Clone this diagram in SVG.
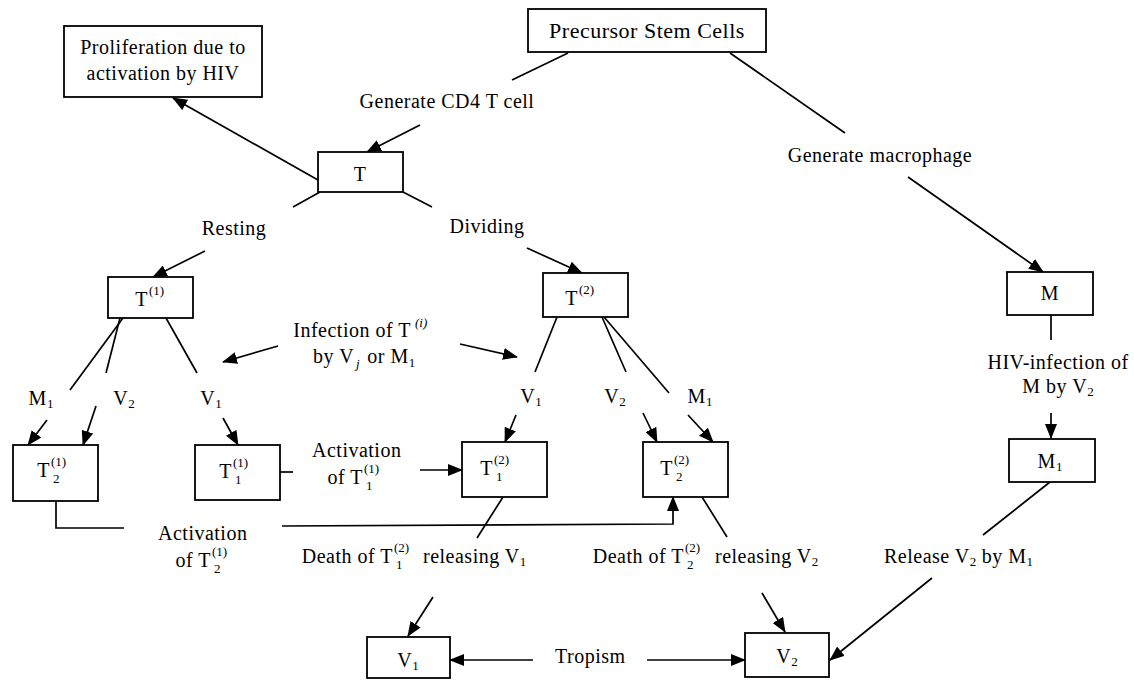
<svg xmlns="http://www.w3.org/2000/svg" width="1134" height="680" viewBox="0 0 1134 680">
<style>
.box{fill:#fff;stroke:#000;stroke-width:1.8}
.ln{stroke:#000;stroke-width:1.7;fill:none}
.ar{marker-end:url(#ah)}
text{font-family:"Liberation Serif","Times New Roman",serif;font-size:20px;letter-spacing:0.5px;fill:#000}
.s{font-size:13px;letter-spacing:0}
.m{text-anchor:middle}
.e{text-anchor:end}
.i{font-style:italic}
</style>
<defs>
<marker id="ah" markerWidth="15" markerHeight="12" refX="14" refY="6" orient="auto" markerUnits="userSpaceOnUse"><path d="M0,0 L15,6 L0,12 z" fill="#000"/></marker>
</defs>
<rect width="1134" height="680" fill="#fff"/>
<g id="connectors">
<line class="ln" x1="568" y1="53" x2="512" y2="80"/>
<line class="ln ar" x1="420" y1="125" x2="367" y2="152"/>
<line class="ln" x1="730" y1="53" x2="845" y2="133"/>
<line class="ln ar" x1="908" y1="177" x2="1043" y2="272"/>
<line class="ln ar" x1="318" y1="180" x2="173" y2="98"/>
<line class="ln" x1="320" y1="192" x2="293" y2="207"/>
<line class="ln" x1="403" y1="192" x2="432" y2="207"/>
<line class="ln ar" x1="205" y1="251" x2="153" y2="277"/>
<line class="ln ar" x1="527" y1="248" x2="582" y2="273"/>
<line class="ln ar" x1="278" y1="346" x2="223" y2="362"/>
<line class="ln ar" x1="460" y1="344" x2="517" y2="357"/>
<line class="ln" x1="123" y1="318" x2="70" y2="390"/>
<line class="ln" x1="120" y1="318" x2="106" y2="373"/>
<line class="ln" x1="166" y1="318" x2="197" y2="373"/>
<line class="ln ar" x1="47" y1="420" x2="28" y2="445"/>
<line class="ln ar" x1="96" y1="406" x2="83" y2="445"/>
<line class="ln ar" x1="223" y1="418" x2="238" y2="445"/>
<line class="ln" x1="557" y1="317" x2="535" y2="372"/>
<line class="ln" x1="602" y1="317" x2="626" y2="372"/>
<line class="ln" x1="604" y1="317" x2="669" y2="393"/>
<line class="ln ar" x1="516" y1="415" x2="505" y2="442"/>
<line class="ln ar" x1="643" y1="413" x2="657" y2="442"/>
<line class="ln ar" x1="688" y1="415" x2="713" y2="442"/>
<line class="ln" x1="280" y1="472" x2="293" y2="472"/>
<line class="ln ar" x1="420" y1="470" x2="462" y2="470"/>
<polyline class="ln" points="56,501 56,528 124,528"/>
<polyline class="ln ar" points="282,526 673,524 673,497"/>
<line class="ln" x1="503" y1="497" x2="477" y2="538"/>
<line class="ln" x1="702" y1="497" x2="727" y2="537"/>
<line class="ln ar" x1="433" y1="597" x2="408" y2="636"/>
<line class="ln ar" x1="762" y1="593" x2="785" y2="632"/>
<line class="ln ar" x1="533" y1="660" x2="450" y2="660"/>
<line class="ln ar" x1="647" y1="660" x2="745" y2="660"/>
<line class="ln ar" x1="932" y1="578" x2="830" y2="660"/>
<line class="ln" x1="1050" y1="482" x2="983" y2="535"/>
<line class="ln" x1="1051" y1="315" x2="1051" y2="340"/>
<line class="ln ar" x1="1051" y1="413" x2="1051" y2="438"/>
</g>
<g id="labels">
<text class="m" x="447" y="108">Generate CD4 T cell</text>
<text class="m" x="880" y="162">Generate macrophage</text>
<text class="m" x="234" y="235">Resting</text>
<text class="m" x="487" y="233">Dividing</text>
<text class="e" x="411" y="337">Infection of T</text>
<text class="s i" x="415" y="327">(i)</text>
<text x="313" y="363">by V<tspan class="s i" dx="2" dy="5">j</tspan><tspan dx="2" dy="-5"> or M</tspan><tspan class="s" dy="4">1</tspan></text>
<text class="m" x="41" y="405">M<tspan class="s" dy="3">1</tspan></text>
<text class="m" x="124" y="405">V<tspan class="s" dy="3">2</tspan></text>
<text class="m" x="211" y="405">V<tspan class="s" dy="3">1</tspan></text>
<text class="m" x="531" y="403">V<tspan class="s" dy="3">1</tspan></text>
<text class="m" x="615" y="403">V<tspan class="s" dy="3">2</tspan></text>
<text class="m" x="700" y="403">M<tspan class="s" dy="3">1</tspan></text>
<text x="312" y="457">Activation</text>
<text class="e" x="363" y="484">of T</text>
<text class="s" x="364" y="473">(1)</text>
<text class="s" x="366" y="490">1</text>
<text x="158" y="540">Activation</text>
<text class="e" x="211" y="567">of T</text>
<text class="s" x="212" y="556">(1)</text>
<text class="s" x="214" y="573">2</text>
<text class="e" x="393" y="563">Death of T</text>
<text class="s" x="394" y="552">(2)</text>
<text class="s" x="396" y="569">1</text>
<text x="423" y="563">releasing V<tspan class="s" dy="3">1</tspan></text>
<text class="e" x="684" y="563">Death of T</text>
<text class="s" x="685" y="552">(2)</text>
<text class="s" x="687" y="569">2</text>
<text x="715" y="563">releasing V<tspan class="s" dy="3">2</tspan></text>
<text x="884" y="563">Release V<tspan class="s" dy="3">2</tspan><tspan dy="-3"> by M</tspan><tspan class="s" dy="3">1</tspan></text>
<text x="555" y="663">Tropism</text>
<text class="m" x="1058" y="369">HIV-infection of</text>
<text class="m" x="1058" y="393">M by V<tspan class="s" dy="3">2</tspan></text>
</g>
<g id="n-prolif"><rect class="box" x="64" y="26" width="198" height="71"/><text class="m" x="163" y="54">Proliferation due to</text><text class="m" x="163" y="80">activation by HIV</text></g>
<g id="n-precursor"><rect class="box" x="528" y="9" width="238" height="43"/><text class="m" x="647" y="38" style="font-size:22px">Precursor Stem Cells</text></g>
<g id="n-T"><rect class="box" x="318" y="152" width="85" height="40"/><text class="m" x="360" y="181">T</text></g>
<g id="n-T1"><rect class="box" x="108" y="277" width="85" height="41"/><text class="e" x="148" y="306">T</text><text class="s" x="149" y="295">(1)</text></g>
<g id="n-T2"><rect class="box" x="543" y="273" width="85" height="44"/><text class="e" x="578" y="305">T</text><text class="s" x="579" y="294">(2)</text></g>
<g id="n-M"><rect class="box" x="1007" y="272" width="86" height="43"/><text class="m" x="1050" y="300">M</text></g>
<g id="n-M1"><rect class="box" x="1009" y="439" width="86" height="43"/><text class="m" x="1050" y="468">M<tspan class="s" dy="3">1</tspan></text></g>
<g id="n-T21"><rect class="box" x="13" y="445" width="85" height="56"/><text class="e" x="50" y="477">T</text><text class="s" x="51" y="466">(1)</text><text class="s" x="53" y="483">2</text></g>
<g id="n-T11"><rect class="box" x="195" y="445" width="85" height="55"/><text class="e" x="232" y="478">T</text><text class="s" x="233" y="467">(1)</text><text class="s" x="235" y="484">1</text></g>
<g id="n-T12"><rect class="box" x="462" y="442" width="85" height="55"/><text class="e" x="493" y="475">T</text><text class="s" x="494" y="464">(2)</text><text class="s" x="496" y="481">1</text></g>
<g id="n-T22"><rect class="box" x="643" y="442" width="85" height="55"/><text class="e" x="673" y="475">T</text><text class="s" x="674" y="464">(2)</text><text class="s" x="676" y="481">2</text></g>
<g id="n-V1"><rect class="box" x="367" y="637" width="83" height="41"/><text class="m" x="408" y="667">V<tspan class="s" dy="3">1</tspan></text></g>
<g id="n-V2"><rect class="box" x="745" y="633" width="84" height="44"/><text class="m" x="787" y="663">V<tspan class="s" dy="3">2</tspan></text></g>
</svg>
